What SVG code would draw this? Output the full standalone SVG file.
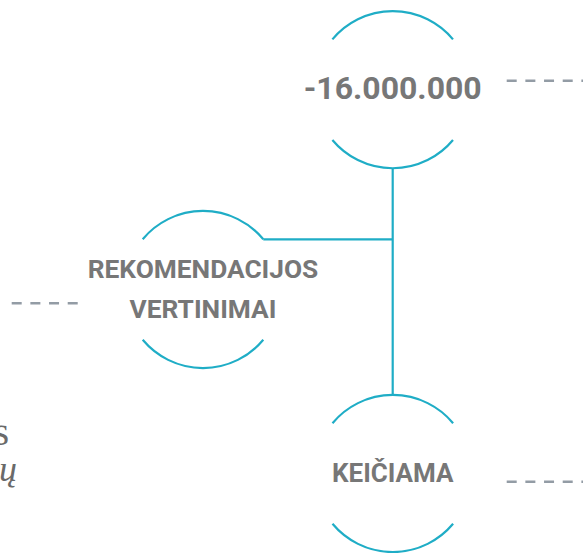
<svg xmlns="http://www.w3.org/2000/svg" width="583" height="553" viewBox="0 0 583 553">
<style>
.arc{fill:none;stroke:#1fadc6;stroke-width:2.2}
.conn{fill:none;stroke:#1fadc6;stroke-width:2.2}
.dash{fill:none;stroke:#939ca5;stroke-width:2.4;stroke-dasharray:10 8.67}
.lbl{font-family:Roboto,"Liberation Sans",sans-serif;font-weight:bold;fill:#777777;text-anchor:middle}
.ser{font-family:"Liberation Serif","DejaVu Serif",serif;fill:#6a6a6a;text-anchor:end}
</style>
<rect width="583" height="553" fill="#ffffff"/>
<g id="side-text">
<text class="ser" x="9" y="445" font-size="40">s</text>
<text class="ser" x="17" y="481" font-size="36" font-style="italic">ų</text>
</g>
<g id="dashes">
<path class="dash" d="M506.7 80.7H583"/>
<path class="dash" d="M11.7 303.3H78"/>
<path class="dash" d="M506.7 481.7H583"/>
</g>
<g id="connectors">
<path class="conn" d="M392.7 168.2V395"/>
<path class="conn" d="M263.3 239.3H392.7"/>
</g>
<g id="node-top">
<path class="arc" d="M332.4 39.4A78.5 78.5 0 0 1 453 39.4"/>
<path class="arc" d="M332.4 140A78.5 78.5 0 0 0 453 140"/>
<text class="lbl" x="392.7" y="99.3" font-size="32">-16.000.000</text>
</g>
<g id="node-middle">
<path class="arc" d="M142.7 239.2A78.5 78.5 0 0 1 263.3 239.2"/>
<path class="arc" d="M142.7 339.8A78.5 78.5 0 0 0 263.3 339.8"/>
<text class="lbl" x="203" y="278.3" font-size="26.3">REKOMENDACIJOS</text>
<text class="lbl" x="203" y="318.3" font-size="26.3">VERTINIMAI</text>
</g>
<g id="node-bottom">
<path class="arc" d="M332.5 423.2A78.5 78.5 0 0 1 453.1 423.2"/>
<path class="arc" d="M332.5 523.8A78.5 78.5 0 0 0 453.1 523.8"/>
<text class="lbl" x="392.8" y="481.7" font-size="26">KEIČIAMA</text>
</g>
</svg>
